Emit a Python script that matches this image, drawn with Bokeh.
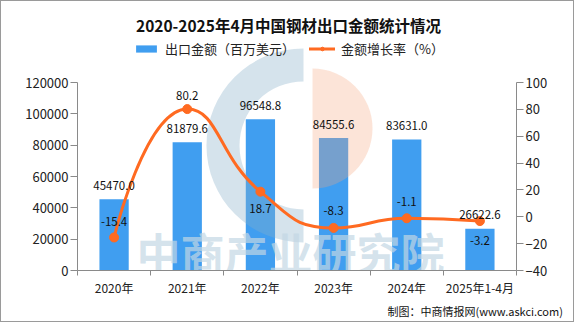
import math
from bokeh.plotting import figure
from bokeh.models import (Range1d, LinearAxis, FixedTicker, Title, Label, BasicTickFormatter,
                          Legend, LegendItem, ColumnDataSource)
from bokeh.core.properties import value
from bokeh.embed import file_html
from bokeh.resources import INLINE

# ---------------- data ----------------
years = ["2020年", "2021年", "2022年", "2023年", "2024年", "2025年1-4月"]
export_value = [45470.0, 81879.6, 96548.8, 84555.6, 83631.0, 26622.6]   # 百万美元
growth_rate = [-15.4, 80.2, 18.7, -8.3, -1.1, -3.2]                       # %
left_ticks = [0, 20000, 40000, 60000, 80000, 100000, 120000]
right_ticks = [-40, -20, 0, 20, 40, 60, 80, 100]

title_text = "2020-2025年4月中国钢材出口金额统计情况"
bar_legend = "出口金额（百万美元）"
line_legend = "金额增长率（%）"
source_text = "制图：中商情报网(www.askci.com)"
watermark = "中商产业研究院"

# ---------------- style ----------------
BAR = "#409EF0"
LINE = "#FF6A21"
AX = "#8a8a8a"
CJK = "Noto Sans CJK SC"
pct_label_offset = [-16, -14, 17, -17, -17, 19]   # px, negative = above point

n = len(years)
xc = [i + 0.5 for i in range(n)]   # centre of each category slot

# the plotting frame reaches the top of the canvas (header lives inside it);
# the axes are bounded to the real value ranges
W, H = 574, 322
FRAME_PX, AXIS_PX = 269.0, 188.0
y_top = left_ticks[-1] * FRAME_PX / AXIS_PX
pct_top = right_ticks[0] + (right_ticks[-1] - right_ticks[0]) * FRAME_PX / AXIS_PX

p = figure(width=W, height=H, x_range=Range1d(0, n), y_range=Range1d(0, y_top),
           title=None, output_backend="svg", toolbar_location=None,
           min_border_left=76, min_border_right=59, min_border_top=0, min_border_bottom=53,
           background_fill_color="white", border_fill_color="white", outline_line_color=None)
p.styles = {"border": "1px solid #9a9a9a"}
p.grid.visible = False
p.extra_y_ranges = {"pct": Range1d(right_ticks[0], pct_top)}

# x axis: labels at slot centres, boundary ticks as minor ticks
xa = p.xaxis[0]
xa.ticker = FixedTicker(ticks=xc, minor_ticks=list(range(n + 1)))
xa.major_label_overrides = {c: y for c, y in zip(xc, years)}
xa.axis_line_color = AX
xa.major_tick_line_color = None
xa.minor_tick_line_color = AX
xa.minor_tick_out = 5
xa.minor_tick_in = 0
xa.major_tick_out = 0
xa.major_tick_in = 0
xa.major_label_standoff = 3
xa.major_label_text_font = CJK
xa.major_label_text_font_size = "12px"
xa.major_label_text_color = "#222"

# left axis
ya = p.yaxis[0]
ya.ticker = FixedTicker(ticks=left_ticks)
ya.bounds = (left_ticks[0], left_ticks[-1])
ya.formatter = BasicTickFormatter(use_scientific=False)
ya.axis_line_color = AX
ya.major_tick_line_color = AX
ya.major_tick_out = 7
ya.major_tick_in = 0
ya.minor_tick_line_color = None
ya.major_label_standoff = 2
ya.major_label_text_font = CJK
ya.major_label_text_font_size = "13px"
ya.major_label_text_color = "#222"

# right axis
ra = LinearAxis(y_range_name="pct", ticker=FixedTicker(ticks=right_ticks),
                bounds=(right_ticks[0], right_ticks[-1]),
                axis_line_color=AX, major_tick_line_color=AX, major_tick_out=7,
                major_tick_in=0, minor_tick_line_color=None, major_label_standoff=2,
                major_label_text_font=CJK, major_label_text_font_size="13px",
                major_label_text_color="#222")
p.add_layout(ra, "right")

# bars
src = ColumnDataSource(dict(x=xc, val=export_value,
                            lab=[f"{v:.1f}" for v in export_value]))
bars = p.vbar(x="x", top="val", width=0.4, source=src, fill_color=BAR, line_color=None)

# watermark (logo + text)
p.annular_wedge(x=[3.089], y=[79800], inner_radius=64, outer_radius=97,
                inner_radius_units="screen", outer_radius_units="screen",
                start_angle=math.pi / 2, end_angle=3 * math.pi / 2,
                fill_color=(135, 175, 200), fill_alpha=0.35, line_color=None)
p.wedge(x=[3.212], y=[90600], radius=60, radius_units="screen",
        start_angle=-math.pi / 2, end_angle=math.pi / 2,
        fill_color=(245, 165, 125), fill_alpha=0.3, line_color=None)
p.text(x=[2.91], y=[11500], text=[watermark], text_font=value(CJK), text_font_style="bold",
       text_font_size="44px", text_align="center", text_baseline="middle",
       text_color=(195, 215, 228), text_alpha=0.7)

# smooth line (ECharts-like smoothing with constraints, in pixel-proportional space)
SX, SY = 73.17, 1.343
px = [x * SX for x in xc]
py = [y * SY for y in growth_rate]
smooth = 0.5
segs = dict(x0=[], y0=[], x1=[], y1=[], cx0=[], cy0=[], cx1=[], cy1=[])
cpx0, cpy0 = px[0], py[0]
for i in range(1, n):
    x, y = px[i], py[i]
    prevX, prevY = px[i - 1], py[i - 1]
    if i == n - 1:
        cpx1, cpy1 = x, y
        ncx, ncy = x, y
    else:
        nextX, nextY = px[i + 1], py[i + 1]
        vx, vy = nextX - prevX, nextY - prevY
        lp = math.hypot(x - prevX, y - prevY)
        ln = math.hypot(nextX - x, nextY - y)
        r = ln / (ln + lp)
        ncx = x + vx * smooth * r
        ncy = y + vy * smooth * r
        ncx = min(ncx, max(nextX, x)); ncy = min(ncy, max(nextY, y))
        ncx = max(ncx, min(nextX, x)); ncy = max(ncy, min(nextY, y))
        vx, vy = ncx - x, ncy - y
        cpx1 = x - vx * lp / ln
        cpy1 = y - vy * lp / ln
        cpx1 = min(cpx1, max(prevX, x)); cpy1 = min(cpy1, max(prevY, y))
        cpx1 = max(cpx1, min(prevX, x)); cpy1 = max(cpy1, min(prevY, y))
        vx, vy = x - cpx1, y - cpy1
        ncx = x + vx * ln / lp
        ncy = y + vy * ln / lp
    segs["x0"].append(prevX / SX); segs["y0"].append(prevY / SY)
    segs["x1"].append(x / SX); segs["y1"].append(y / SY)
    segs["cx0"].append(cpx0 / SX); segs["cy0"].append(cpy0 / SY)
    segs["cx1"].append(cpx1 / SX); segs["cy1"].append(cpy1 / SY)
    cpx0, cpy0 = ncx, ncy

line = p.bezier(x0="x0", y0="y0", x1="x1", y1="y1", cx0="cx0", cy0="cy0", cx1="cx1", cy1="cy1",
                source=ColumnDataSource(segs), y_range_name="pct",
                line_color=LINE, line_width=3, line_cap="round")
pts = p.scatter(x=xc, y=growth_rate, y_range_name="pct", size=9,
                fill_color=LINE, line_color=LINE)

# data labels
p.text(x="x", y="val", text="lab", source=src, y_offset=-14, text_align="center",
       text_baseline="middle", text_font=value(CJK), text_font_size="11.5px", text_color="#111")
psrc = ColumnDataSource(dict(x=xc, val=growth_rate, lab=[f"{v:.1f}" for v in growth_rate],
                             off=pct_label_offset))
p.text(x="x", y="val", text="lab", source=psrc, y_offset="off", y_range_name="pct",
       text_align="center", text_baseline="middle", text_font=value(CJK),
       text_font_size="11.5px", text_color="#111")

# header (inside the tall frame): title + legend
p.add_layout(Label(x=2.884, y=157000, text=title_text, text_align="center", text_baseline="middle",
                   text_font=CJK, text_font_style="bold", text_font_size="15.5px",
                   text_color="#111"))
legend = Legend(items=[LegendItem(label=bar_legend, renderers=[bars]),
                       LegendItem(label=line_legend, renderers=[line, pts])],
                orientation="horizontal", location=(56, 212), padding=0, margin=0,
                spacing=14, glyph_width=26, glyph_height=9, label_height=17,
                label_standoff=6, label_text_font=CJK, label_text_font_size="13px",
                label_text_color="#222", border_line_color=None, background_fill_alpha=0)
p.add_layout(legend)

# footer below the x axis
p.add_layout(Title(text=source_text, align="left", offset=310, standoff=5, text_font=CJK,
                   text_font_style="normal", text_font_size="11px", text_color="#111"), "below")

open("out.html", "w").write(file_html(p, INLINE))
